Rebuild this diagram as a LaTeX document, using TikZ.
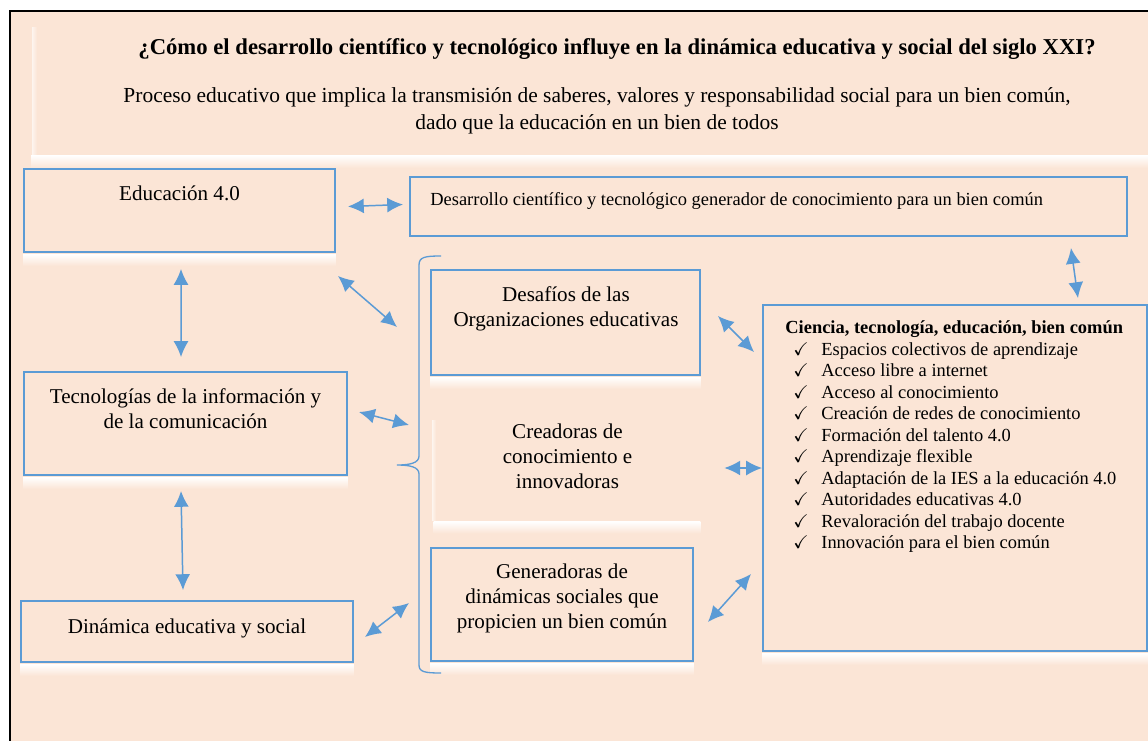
\documentclass[tikz,border=0pt]{standalone}
\usepackage{fontspec}
\usepackage{amssymb}
\setmainfont{Liberation Serif}
\usetikzlibrary{arrows.meta}
\usetikzlibrary{fit}
\definecolor{peach}{HTML}{FBE5D6}
\definecolor{boxblue}{HTML}{5B9BD5}
\tikzset{box/.style = {draw=boxblue, line width=1.1pt, inner sep=0pt},
         biarrow/.style = {boxblue, line width=0.85pt,
                           {Latex[length=9pt,width=8.5pt]}-{Latex[length=9pt,width=8.5pt]}},
         glow/.style = {top color=white, bottom color=peach, draw=none},
         txt/.style = {font=\fontsize{12}{14.2}\selectfont, align=center, anchor=base},
         small/.style = {font=\fontsize{10.5}{12.2}\selectfont, anchor=base west, inner sep=0pt}}

\begin{document}
\begin{tikzpicture}[x=0.02cm, y=-0.02cm]
      \useasboundingbox (0,0) rectangle (1148,740);
      \fill [white] (0,0) rectangle (1148,740);
      \fill [peach] (10,11) rectangle (1160,760);
      \draw [line width=1.2pt] (10,760) -- (10,11) -- (1160,11);

      % heading
      \shade [left color=white!60!peach, right color=peach] (32,28) rectangle (37,160);
      \shade [glow] (31,155) rectangle (1148,168);
      \node [font=\bfseries\fontsize{12.9}{15}\selectfont, anchor=base] (title) at (617,55)
            {¿Cómo el desarrollo científico y tecnológico influye en la dinámica educativa y social del siglo XXI?};
      \node [txt, font=\fontsize{12.2}{15.2}\selectfont] (sub) at (597,129)
            {Proceso educativo que implica la transmisión de saberes, valores y responsabilidad social para un bien común,\\
             dado que la educación en un bien de todos};

      % boxes
      \node [box, fit={(24,169) (335,252)}] (educ) {};
      \node [box, fit={(410,177) (1127,236)}] (desa) {};
      \node [box, fit={(431,270) (700,375)}] (desaf) {};
      \node [box, fit={(24,372) (347,475)}] (tic) {};
      \node [inner sep=0pt, fit={(434,420) (700,520)}] (crea) {};
      \node [box, fit={(431,548) (693,661)}] (gen) {};
      \node [box, fit={(21,601) (353,662)}] (din) {};
      \node [box, fit={(763,305) (1147,651)}] (cien) {};

      \foreach \n in {educ, desaf, tic, crea, gen, din, cien}
        \shade [glow] ([yshift=-0.6pt]\n.south west) rectangle ([shift={(0,13)}]\n.south east);
      \shade [left color=white!60!peach, right color=peach] (432,420) rectangle (436,520);

      \node [txt] (educt) at (179.5,200.7) {Educación 4.0};
      \node [small] (desat) at (430,205)
            {Desarrollo científico y tecnológico generador de conocimiento para un bien común};
      \node [txt] (desaft) at (566,326) {Desafíos de las\\Organizaciones educativas};
      \node [txt] (tict) at (185.5,428) {Tecnologías de la información y\\de la comunicación};
      \node [txt] (creat) at (567.5,488) {Creadoras de\\conocimiento e\\innovadoras};
      \node [txt] (gent) at (562,628) {Generadoras de\\dinámicas sociales que\\propicien un bien común};
      \node [txt] (dint) at (187,633) {Dinámica educativa y social};

      \node [small, font=\bfseries\fontsize{10.5}{12.2}\selectfont] (ciet) at (785,333)
            {Ciencia, tecnología, educación, bien común};
      \foreach \t [count=\i from 0] in {Espacios colectivos de aprendizaje, Acceso libre a internet,
                 Acceso al conocimiento, Creación de redes de conocimiento, Formación del talento 4.0,
                 Aprendizaje flexible, Adaptación de la IES a la educación 4.0, Autoridades educativas 4.0,
                 Revaloración del trabajo docente, Innovación para el bien común} {
        \node [small, anchor=base] (chk\i) at (801,355+21.5*\i) {$\checkmark$};
        \node [small] (item\i) at (821,355+21.5*\i) {\t};
      }

      % brace
      \draw [boxblue, line width=0.75pt] (441,256) .. controls (425,256) and (419,257) .. (419,265)
            -- (419,456) .. controls (419,463) and (410,465) .. (397,465)
            .. controls (410,465) and (419,467) .. (419,474)
            -- (419,665) .. controls (419,672) and (425,673) .. (441,673);
      \coordinate (b1) at (397,327);
      \coordinate (b2) at (409,425);
      \coordinate (b3) at (409,603);

      % connectors
      \draw [biarrow] ([shift={(12,-4)}]educ.east) -- ([shift={(-6,-2)}]desa.west);
      \draw [biarrow] ([shift={(1.5,16)}]educ.south) -- ([shift={(-4.5,-14)}]tic.north);
      \draw [biarrow] ([shift={(2,23)}]educ.south east) -- (b1);
      \draw [biarrow] ([shift={(11,-11.5)}]tic.east) -- (b2);
      \draw [biarrow] ([shift={(-4.5,15)}]tic.south) -- ([shift={(-4,-10)}]din.north);
      \draw [biarrow] ([shift={(11,5.5)}]din.east) -- (b3);
      \draw [biarrow] ([shift={(17,-6.5)}]desaf.east) -- ([shift={(-8,48)}]cien.north west);
      \draw [biarrow] ([shift={(24,-2)}]crea.east) -- ([shift={(0,-10)}]cien.west);
      \draw [biarrow] ([shift={(14,17.5)}]gen.east) -- ([shift={(-11,-78)}]cien.south west);
      \draw [biarrow] ([shift={(-57,11)}]desa.south east) -- ([shift={(-70,-6)}]cien.north east);
    \end{tikzpicture}
\end{document}
